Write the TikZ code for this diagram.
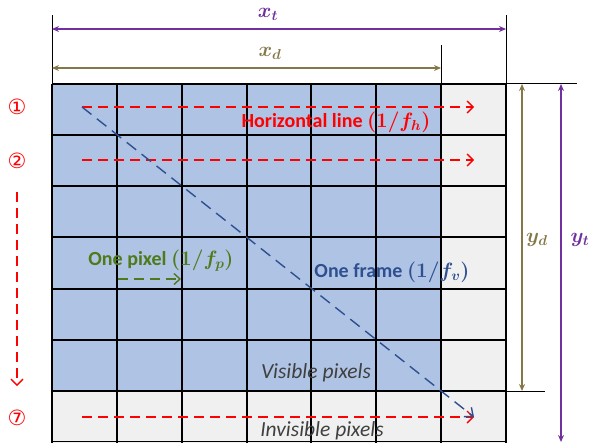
\documentclass[tikz,border=0pt]{standalone}
\usepackage{fontspec}
\setmainfont{Carlito}
\newfontfamily\circfont{DejaVu Sans}
\usetikzlibrary{arrows.meta}
\definecolor{visblue}{HTML}{AFC3E4}
\definecolor{invgray}{HTML}{F0F0F0}
\definecolor{dimpurple}{HTML}{7030A0}
\definecolor{dimolive}{HTML}{857848}
\definecolor{framblue}{HTML}{2F5090}
\definecolor{pixgreen}{HTML}{4F7A1C}
\definecolor{txtgray}{HTML}{404040}
\tikzset{
  gridline/.style={line width=1.1pt, black},
  dimline/.style={line width=0.9pt},
  dimarrow/.style={line width=1.2pt, {Stealth[length=7pt,width=6pt]}-{Stealth[length=7pt,width=6pt]}},
  redarrow/.style={red, line width=1.4pt, dash pattern=on 10pt off 6pt, -{Straight Barb[length=6pt,width=12pt,line width=1.4pt]}},
  diagarrow/.style={framblue, line width=1.4pt, dash pattern=on 12pt off 7pt, -{Straight Barb[length=7pt,width=12pt,line width=1.4pt]}},
  greenarrow/.style={pixgreen, line width=1.4pt, dash pattern=on 10pt off 6pt, -{Straight Barb[length=6pt,width=11pt,line width=1.4pt]}},
  circnum/.style={red, font=\circfont\fontsize{21}{21}\selectfont},
  dimlabel/.style={inner sep=1pt, font=\boldmath\fontsize{21}{21}\selectfont},
  boldlabel/.style={font=\bfseries\boldmath\fontsize{20}{20}\selectfont},
  itlabel/.style={txtgray, font=\itshape\fontsize{21.5}{22}\selectfont}
}
\begin{document}
\begin{tikzpicture}[x=1pt,y=-1pt]
\useasboundingbox (0,0) rectangle (591,442);
% fills
\fill[invgray] (52,84) rectangle (506,443);
\fill[visblue] (52,84) rectangle (441,391);
% grid
\foreach \c in {52,117,182,247,311,376,441,506} \draw[gridline] (\c,84) -- (\c,443);
\foreach \r in {84,135,186,237,289,340,391,441.5} \draw[gridline] (52,\r) -- (506,\r);
% dimension ticks
\coordinate (tL) at (52,15);
\coordinate (tLb) at (52,84);
\coordinate (tR) at (506,15);
\coordinate (tRb) at (506,84);
\coordinate (tD) at (441,45);
\coordinate (tDb) at (441,84);
\draw[dimline] (tL) -- (tLb);
\draw[dimline] (tR) -- (tRb);
\draw[dimline] (tD) -- (tDb);
\coordinate (rT) at (506,83.5);
\coordinate (rTe) at (577,83.5);
\coordinate (rB) at (506,391);
\coordinate (rBe) at (545,391);
\draw[dimline] (rT) -- (rTe);
\draw[dimline] (rB) -- (rBe);
% horizontal dimensions
\coordinate (xtA) at (52,29);
\coordinate (xtB) at (506,29);
\draw[dimarrow, dimpurple] (xtA) -- (xtB);
\node[dimlabel, dimpurple] (xt) at (268,14) {$x_t$};
\coordinate (xdA) at (52,68);
\coordinate (xdB) at (441,68);
\draw[dimarrow, dimolive] (xdA) -- (xdB);
\node[dimlabel, dimolive] (xd) at (270,53) {$x_d$};
% vertical dimensions
\coordinate (ydA) at (522,84);
\coordinate (ydB) at (522,391);
\draw[dimarrow, dimolive] (ydA) -- (ydB);
\node[dimlabel, dimolive] (yd) at (537,240) {$y_d$};
\coordinate (ytA) at (561,84);
\coordinate (ytB) at (561,442);
\draw[dimarrow, dimpurple] (ytA) -- (ytB);
\node[dimlabel, dimpurple] (yt) at (580,240) {$y_t$};
% circled numbers
\node[circnum] (n1) at (17,107) {①};
\node[circnum] (n2) at (17,161) {②};
\node[circnum] (n7) at (17,418) {⑦};
\coordinate (vA) at (17,192);
\coordinate (vB) at (17,386);
\draw[redarrow] (vA) -- (vB);
% red scan lines
\coordinate (h1A) at (82,107);
\coordinate (h1B) at (474,107);
\coordinate (h2A) at (82,160);
\coordinate (h2B) at (474,160);
\coordinate (h7A) at (82,417);
\coordinate (h7B) at (474,417);
\draw[redarrow] (h1A) -- (h1B);
\draw[redarrow] (h2A) -- (h2B);
\draw[redarrow] (h7A) -- (h7B);
% diagonal frame
\draw[diagarrow] (h1A) -- (h7B);
% green pixel arrow
\coordinate (pA) at (118,279);
\coordinate (pB) at (181,279);
\draw[greenarrow] (pA) -- (pB);
% labels
\node[boldlabel, red] (hl) at (336,122) {Horizontal line $(1/f_h)$};
\node[boldlabel, pixgreen] (op) at (161,261) {One pixel $(1/f_p)$};
\node[boldlabel, framblue] (of) at (392,272) {One frame $(1/f_v)$};
\node[itlabel] (vp) at (316,373) {Visible pixels};
\node[itlabel] (ip) at (322,431) {Invisible pixels};
\end{tikzpicture}
\end{document}
